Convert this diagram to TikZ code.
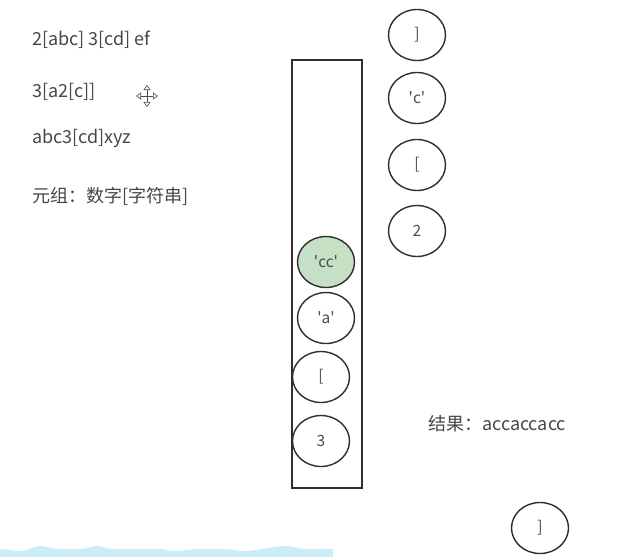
\documentclass[tikz,border=0pt]{standalone}
\usepackage{fontspec}
\setmainfont{Noto Sans CJK SC}
\usetikzlibrary{shapes.geometric,arrows.meta,scopes}
\definecolor{doneGreen}{RGB}{197,224,197}
\definecolor{waveBlue}{RGB}{204,236,249}
\newcommand{\sq}{\textquotesingle}

\begin{document}
\begin{tikzpicture}[x=1pt,y=-1pt,
    note/.style={anchor=west,inner sep=0,text=black!72,font=\fontsize{18}{21}\selectfont},
    elem/.style={ellipse,draw=black!82,line width=1.4pt,fill=white,minimum width=57pt,minimum height=51pt,inner sep=0,text=black!70,font=\fontsize{15.5}{18}\selectfont},
    done/.style={elem,fill=doneGreen},
]
    \useasboundingbox[fill=white] (0,0) rectangle (628,557);
    % examples
    \node[note] (ex1) at (32,40) {2[abc] 3[cd] ef};
    \node[note] (ex2) at (32,92) {3[a2[c]]};
    \node[note] (ex3) at (32,138) {abc3[cd]xyz};
    \node[note] (tuple) at (32,196) {元组：数字[字符串]};
    \node[note] (res) at (428,424) {结果：accaccacc};
    % cursor
    {[draw=black!70,line width=0.6pt,{Triangle[open,length=5pt,width=7pt]}-{Triangle[open,length=5pt,width=7pt]}]
        \draw (136,96) -- (158,96);
        \draw (147,85) -- (147,107);
    }
    % stack
    \draw[line width=1.5pt,draw=black!82] (292,60) rectangle (362,488);
    \node[done] (s4) at (326,262) {\sq cc\sq};
    \node[elem] (s3) at (326,318) {\sq a\sq};
    \node[elem] (s2) at (321,377) {[};
    \node[elem] (s1) at (321,441) {3};
    % popped
    \node[elem] (p1) at (417,35) {]};
    \node[elem] (p2) at (417,98) {\sq c\sq};
    \node[elem] (p3) at (417,165) {[};
    \node[elem] (p4) at (417,231) {2};
    \node[elem] (p5) at (540,528) {]};
    % wave
    \fill[waveBlue] (0,557) -- (0,549) to[out=0,in=180] (20,551) to[out=0,in=180] (40,546)
        to[out=0,in=180] (58,549) -- (80,549) to[out=0,in=180] (97,546) to[out=0,in=180] (112,549)
        -- (160,549) to[out=0,in=180] (173,551) to[out=0,in=180] (200,549) -- (225,549)
        to[out=0,in=180] (243,551) to[out=0,in=180] (287,546) to[out=0,in=180] (305,549)
        -- (333,549) -- (333,557) -- cycle;
\end{tikzpicture}
\end{document}
